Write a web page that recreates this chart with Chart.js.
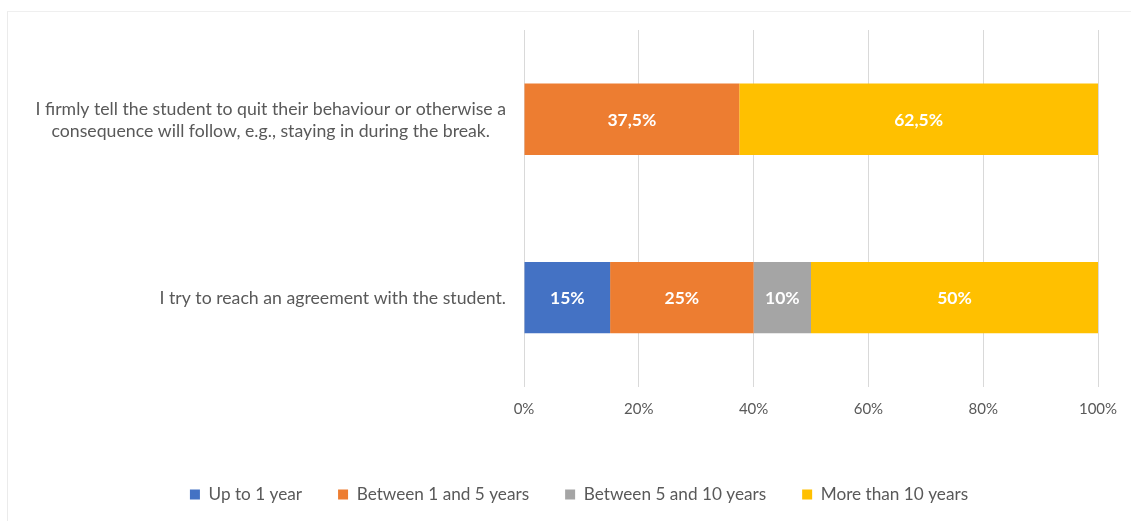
<!DOCTYPE html>
<html>
<head>
<meta charset="utf-8">
<script src="https://cdn.jsdelivr.net/npm/chart.js@4.4.1/dist/chart.umd.min.js"></script>
<style>
    html, body { margin: 0; padding: 0; background: #ffffff; }
    #wrap { position: relative; width: 1131px; height: 521px; }
    #frame {
        position: absolute; left: 7px; top: 11px; right: 0; bottom: 0;
        border-top: 1px solid #efefef; border-left: 1px solid #ebebeb;
        pointer-events: none;
    }
</style>
</head>
<body>
<div id="wrap">
    <canvas id="chart" width="1131" height="521"></canvas>
    <div id="frame"></div>
</div>
<script>
// Categories (each entry is the list of lines shown on the axis)
const categories = [
    ['I firmly tell the student to quit their behaviour or otherwise a',
     'consequence will follow, e.g., staying in during the break.'],
    ['I try to reach an agreement with the student.']
];

// Share of answers per experience group, in percent
const upToOneYear = [0, 15];
const oneToFiveYears = [37.5, 25];
const fiveToTenYears = [0, 10];
const moreThanTenYears = [62.5, 50];

const seriesNames = ['Up to 1 year', 'Between 1 and 5 years', 'Between 5 and 10 years', 'More than 10 years'];
const seriesColors = ['#4472C4', '#ED7D31', '#A5A5A5', '#FFC000'];

const xTicks = [0, 20, 40, 60, 80, 100];

const TEXT_COLOR = '#595959';
const FONT = 'Lato, "Open Sans", sans-serif';

// Percent with comma decimals, e.g. 37,5%
const fmtPct = v => String(v).replace('.', ',') + '%';

// White value labels centred in each segment
const valueLabels = {
    id: 'valueLabels',
    afterDatasetsDraw(chart) {
        const ctx = chart.ctx;
        ctx.save();
        ctx.fillStyle = '#ffffff';
        ctx.font = 'bold 17.5px ' + FONT;
        ctx.textAlign = 'center';
        ctx.textBaseline = 'middle';
        chart.data.datasets.forEach((ds, i) => {
            const meta = chart.getDatasetMeta(i);
            meta.data.forEach((bar, j) => {
                const v = ds.data[j];
                if (!v) return;
                ctx.fillText(fmtPct(v), (bar.x + bar.base) / 2, bar.y + 1);
            });
        });
        ctx.restore();
    }
};

// Category labels: block right-aligned to the axis, lines centred inside it
const categoryLabels = {
    id: 'categoryLabels',
    afterDraw(chart) {
        const ctx = chart.ctx;
        const yScale = chart.scales.y;
        const right = chart.chartArea.left - 18;
        const lineH = 22;
        ctx.save();
        ctx.fillStyle = TEXT_COLOR;
        ctx.font = '17.7px ' + FONT;
        ctx.textAlign = 'center';
        ctx.textBaseline = 'middle';
        categories.forEach((lines, i) => {
            const w = Math.max(...lines.map(l => ctx.measureText(l).width));
            const cx = right - w / 2;
            const cy = yScale.getPixelForValue(i) + 1;
            lines.forEach((l, k) => {
                ctx.fillText(l, cx, cy + (k - (lines.length - 1) / 2) * lineH);
            });
        });
        ctx.restore();
    }
};

const seriesData = [upToOneYear, oneToFiveYears, fiveToTenYears, moreThanTenYears];

new Chart(document.getElementById('chart'), {
    type: 'bar',
    data: {
        labels: categories,
        datasets: seriesData.map((d, i) => ({
            label: seriesNames[i],
            data: d,
            backgroundColor: seriesColors[i],
            borderWidth: 0,
            barPercentage: 0.4,
            categoryPercentage: 1
        }))
    },
    options: {
        indexAxis: 'y',
        responsive: false,
        animation: false,
        // left padding only shifts the legend row; the axis width below sets the plot edge
        layout: { padding: { top: 30, right: 0, bottom: 8, left: 27 } },
        scales: {
            x: {
                stacked: true,
                min: 0,
                max: 100,
                afterBuildTicks: s => { s.ticks = xTicks.map(v => ({ value: v })); },
                afterFit: s => { s.height = 63; s.paddingRight = 33; },
                grid: { color: '#d9d9d9', drawTicks: false },
                border: { display: false },
                ticks: {
                    color: TEXT_COLOR,
                    font: { family: FONT, size: 15 },
                    padding: 13,
                    callback: v => v + '%'
                }
            },
            y: {
                stacked: true,
                afterFit: s => { s.width = 497; },
                grid: { display: false },
                border: { display: false },
                ticks: { display: false }
            }
        },
        plugins: {
            legend: {
                position: 'bottom',
                labels: {
                    color: TEXT_COLOR,
                    font: { family: FONT, size: 17.2 },
                    boxWidth: 10,
                    boxHeight: 10,
                    padding: 36
                }
            },
            tooltip: { enabled: false }
        }
    },
    plugins: [valueLabels, categoryLabels]
});
</script>
</body>
</html>
